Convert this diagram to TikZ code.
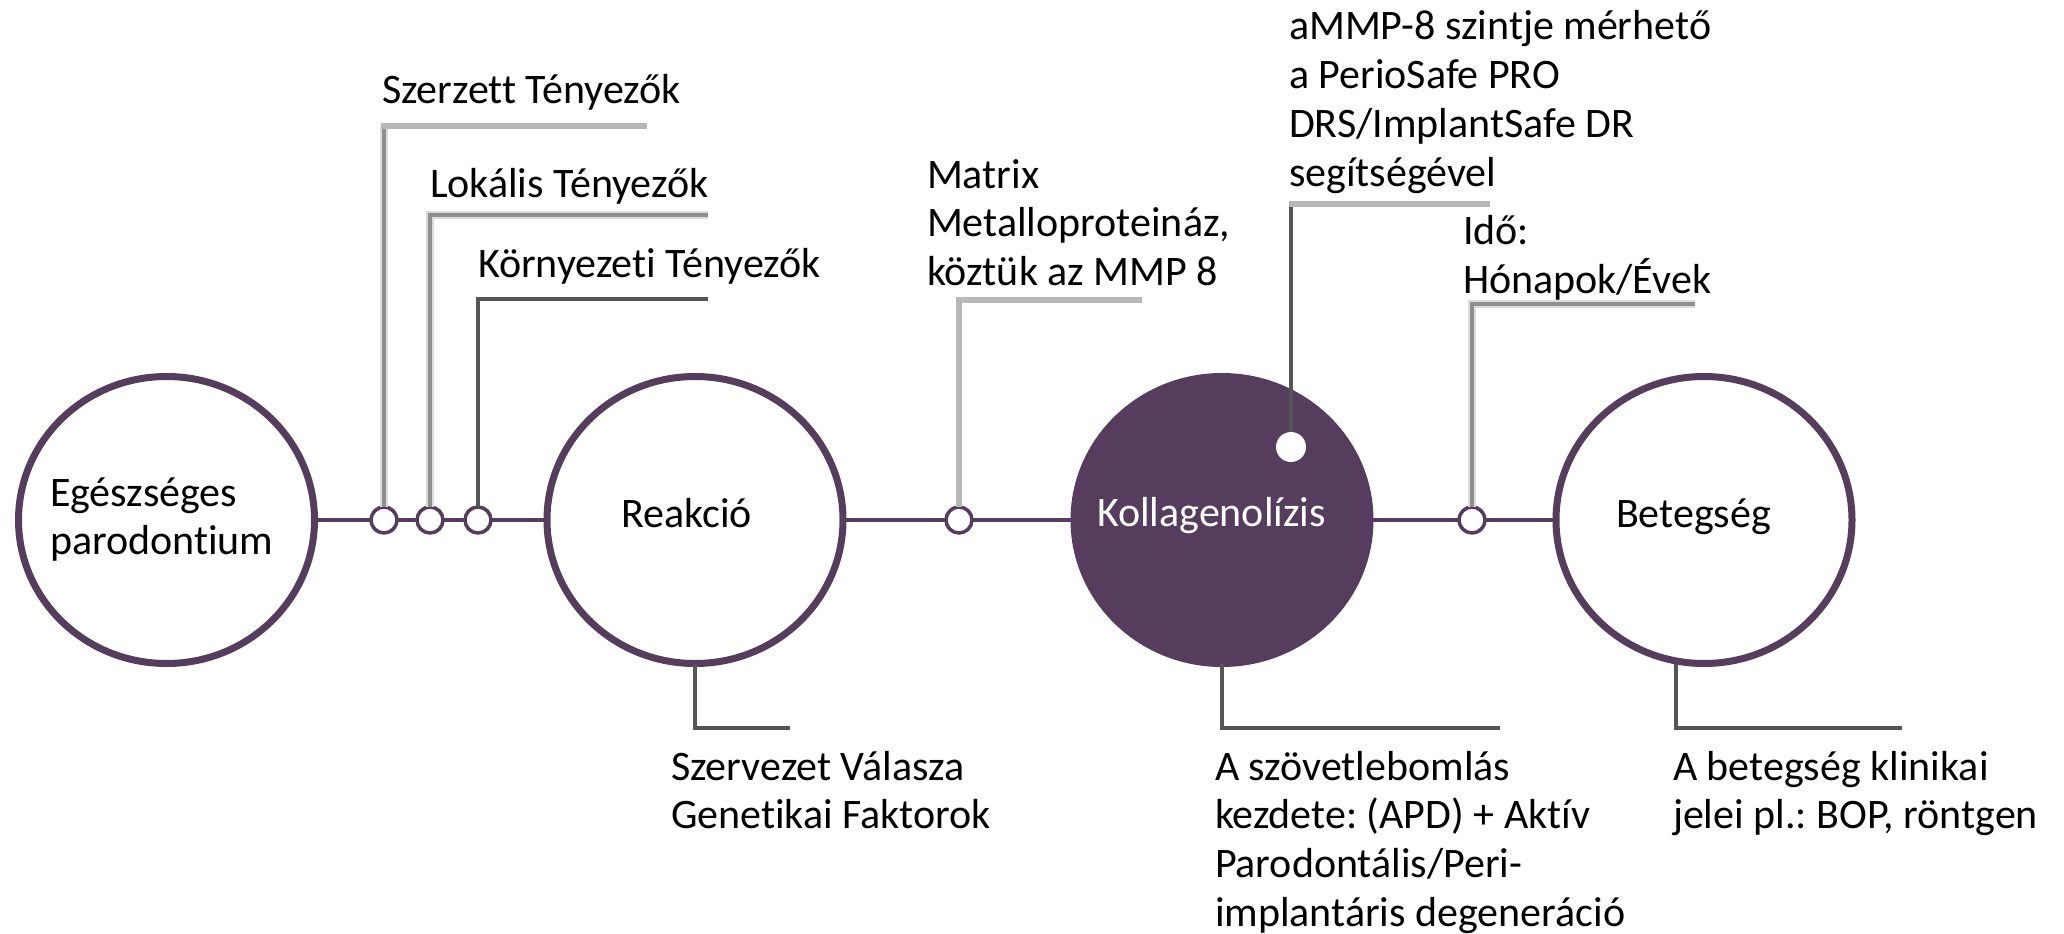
\documentclass[tikz,border=0pt]{standalone}
\usepackage{fontspec}
\setmainfont[Ligatures={NoCommon,NoRare,NoContextual}]{Carlito}
\usetikzlibrary{shapes.geometric}
\definecolor{plum}{HTML}{563D5E}
\definecolor{lightln}{HTML}{B8B8B8}
\definecolor{midln}{HTML}{8F8F8F}
\definecolor{haloln}{HTML}{DCDCDC}
\definecolor{darkln}{HTML}{555555}
\newcommand{\mylines}[1]{\begin{tabular}[t]{@{}l@{}}#1\end{tabular}}
\frenchspacing
\begin{document}
\begin{tikzpicture}[x=1pt,y=-1pt,
  every node/.style={inner sep=0pt, outer sep=0pt, font=\fontsize{42}{48.7}\selectfont\frenchspacing},
  bigc/.style={ellipse, draw=plum, line width=7pt, minimum width=296pt, minimum height=287pt, fill=white},
  smallc/.style={circle, draw=plum, line width=3.5pt, fill=white, minimum size=26pt},
  mainln/.style={draw=plum, line width=4pt},
  lightline/.style={draw=lightln, line width=6.5pt},
  midline/.style={draw=midln, line width=4pt, preaction={draw=haloln, line width=8pt}},
  darkline/.style={draw=darkln, line width=3.5pt},
  lbl/.style={anchor=base west, text=black},
]
\fill[white] (0,0) rectangle (2064,934);
\useasboundingbox (0,0) rectangle (2064,934);

% big circles
\node[bigc] (c1) at (166.5,520) {};
\node[bigc] (c2) at (695,520) {};
\node[bigc, fill=plum] (c3) at (1222,520) {};
\node[bigc] (c4) at (1704,520) {};
% small circles
\node[smallc] (s1) at (384,520) {};
\node[smallc] (s2) at (430,520) {};
\node[smallc] (s3) at (478,520) {};
\node[smallc] (s4) at (959,520) {};
\node[smallc] (s5) at (1472,520) {};
\node[circle, fill=white, minimum size=30pt] (wd) at (1291,447) {};

% main line
\draw[mainln] (c1) -- (s1) (s1) -- (s2) (s2) -- (s3) (s3) -- (c2)
  (c2) -- (s4) (s4) -- (c3) (c3) -- (s5) (s5) -- (c4);

% upper connectors
\coordinate (h1) at (647,126);
\draw[midline] (s1.north) -- (s1.north |- h1);
\draw[lightline] ([xshift=-3pt]s1.north |- h1) -- (h1);
\coordinate (h2) at (708,215);
\draw[midline] (s2.north) |- (h2);
\coordinate (h3) at (708,299);
\draw[darkline] (s3.north) |- (h3);
\coordinate (h4) at (1142,300);
\draw[lightline] (s4.north) |- (h4);
\coordinate (h5) at (1490,204);
\draw[darkline] (wd.north) -- (wd.north |- h5);
\draw[lightline] ([xshift=-2pt]wd.north |- h5) -- (h5);
\coordinate (h6) at (1695,304);
\draw[midline] (s5.north) |- (h6);

% lower connectors
\coordinate (b2) at (790,728);
\draw[darkline] (c2.south) |- (b2);
\coordinate (b3) at (1500,728);
\draw[darkline] (c3.south) |- (b3);
\coordinate (b4) at (1902,728);
\draw[darkline] ([xshift=-28pt]c4.south) |- (b4);

% texts
\node[lbl] (t1) at (382,103) {Szerzett Tényezők};
\node[lbl] (t2) at (430,197) {Lokális Tényezők};
\node[lbl] (t3) at (478,277) {Környezeti Tényezők};
\node[lbl] (t4) at (927,188) {\mylines{Matrix\\Metalloproteináz,\\köztük az MMP 8}};
\node[lbl] (t5) at (1289,40) {\mylines{aMMP-8 szintje mérhető\\a PerioSafe PRO\\DRS/ImplantSafe DR\\segítségével}};
\node[lbl] (t6) at (1463,244) {\mylines{Idő:\\Hónapok/Évek}};
\node[lbl] (t7) at (671,780) {\mylines{Szervezet Válasza\\Genetikai Faktorok}};
\node[lbl] (t8) at (1215,780) {\mylines{A szövetlebomlás\\kezdete: (APD) + Aktív\\Parodontális/Peri-\\implantáris degeneráció}};
\node[lbl] (t9) at (1673,780) {\mylines{A betegség klinikai\\jelei pl.: BOP, röntgen}};

\node[lbl] (l1) at (50,506) {\mylines{Egészséges\\parodontium}};
\node[lbl] (l2) at (621,527) {Reakció};
\node[lbl, text=white] (l3) at (1097,526) {Kollagenolízis};
\node[lbl] (l4) at (1616,527) {Betegség};
\end{tikzpicture}
\end{document}
